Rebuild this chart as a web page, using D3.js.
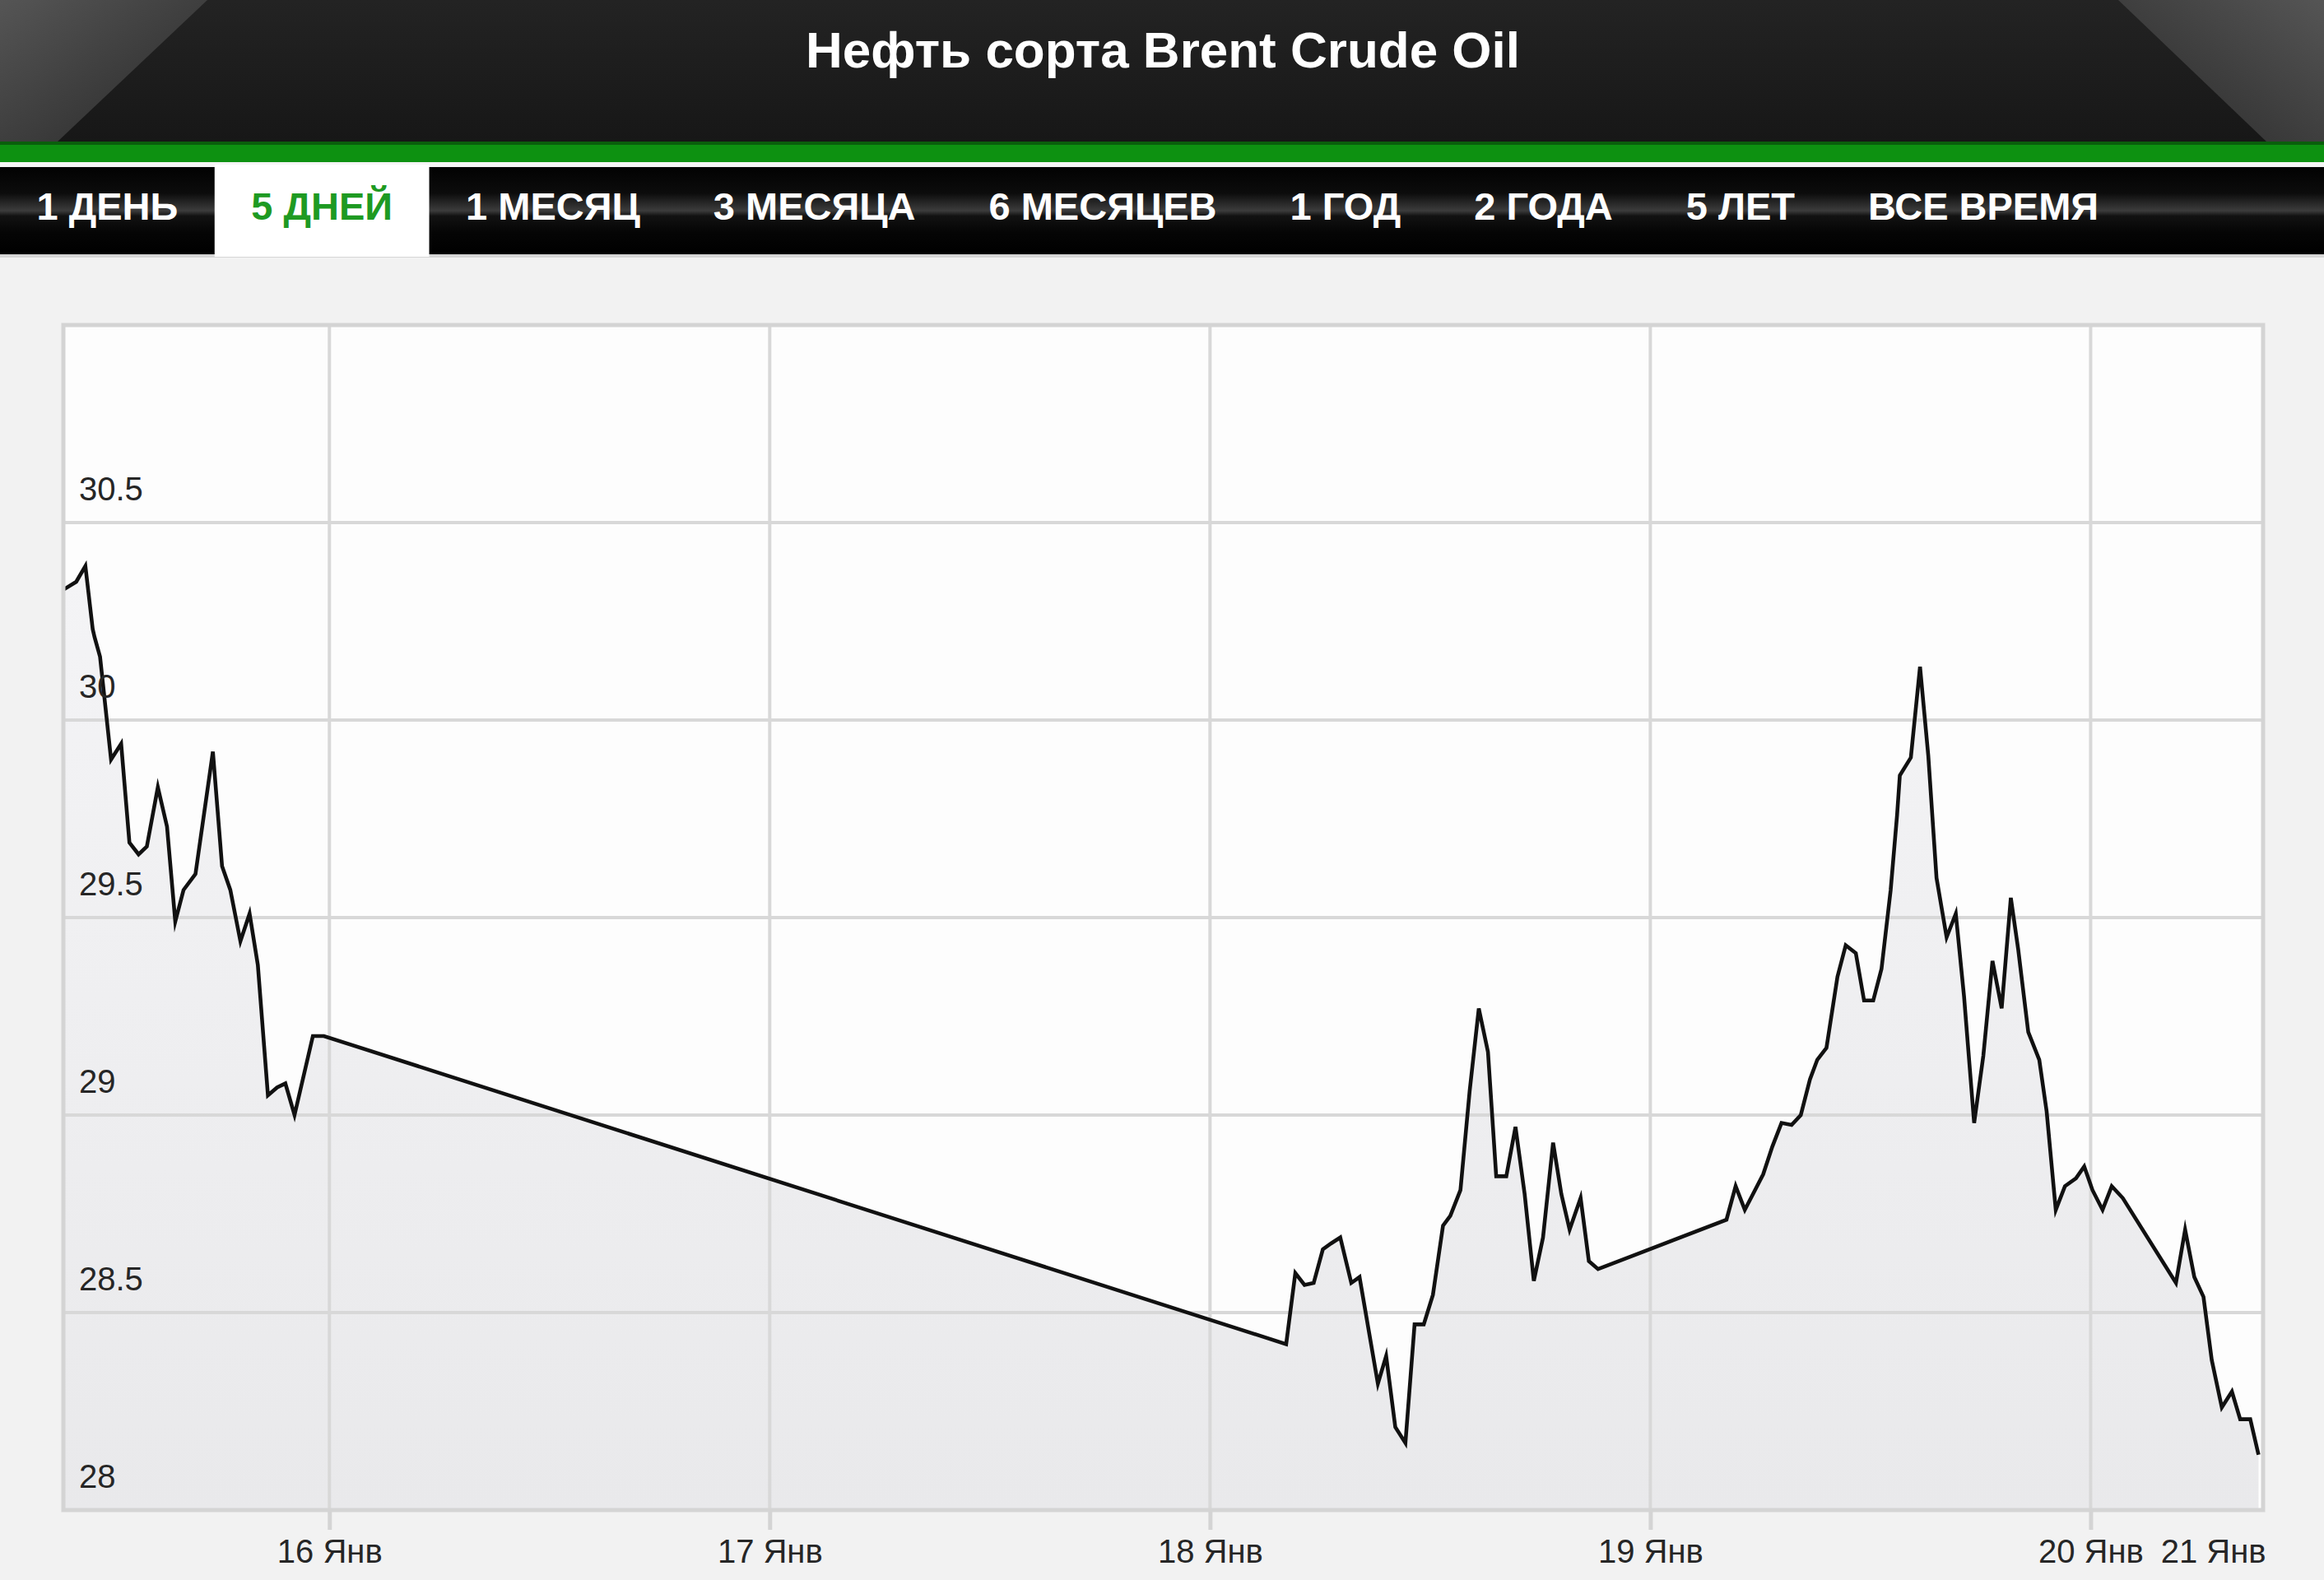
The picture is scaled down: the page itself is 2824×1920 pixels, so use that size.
<!DOCTYPE html>
<html>
<head>
<meta charset="utf-8">
<script src="https://cdnjs.cloudflare.com/ajax/libs/d3/7.8.5/d3.min.js"></script>
<style>
html,body{margin:0;padding:0;background:#f2f2f2;}
svg{display:block;}
text{font-family:"Liberation Sans",Arial,sans-serif;}
</style>
</head>
<body>
<svg id="chart" width="2824" height="1920"></svg>
<script>
// ---------- data ----------
const titleText = "Нефть сорта Brent Crude Oil";
const tabLabels = ["1 ДЕНЬ","5 ДНЕЙ","1 МЕСЯЦ","3 МЕСЯЦА","6 МЕСЯЦЕВ","1 ГОД","2 ГОДА","5 ЛЕТ","ВСЕ ВРЕМЯ"];
const selectedTab = 1;
// hours since 15 Jan 2016 00:00
const hours = [
  9.5,10.2,10.7,11.1,11.2,11.5,12.1,12.65,13.1,13.6,14.05,14.65,15.15,15.6,16.05,16.7,17.65,18.15,18.6,19.15,19.65,20.1,20.65,21.15,21.6,22.1,23.1,23.7,
  76.15,76.65,77.15,77.65,78.15,78.6,79.1,79.7,80.15,81.15,81.6,82.1,82.65,83.15,83.65,84.15,84.7,85.1,85.65,86.15,86.65,87.15,87.6,88.15,88.65,89.15,89.65,90.15,90.7,91.15,91.6,92.2,92.65,93.15,
  100.15,100.65,101.15,102.15,102.65,103.15,103.7,104.2,104.7,105.1,105.6,106.2,106.65,107.2,107.65,108.15,108.6,109.1,109.45,109.6,110.2,110.7,111.15,111.6,112.15,112.65,113.1,113.65,114.15,114.65,115.15,115.65,116.05,116.6,117.2,117.6,118.1,118.6,119.2,119.65,120.1,120.65,121.15,121.75,124.65,125.15,125.65,126.15,126.6,127.15,127.7,128.15,128.7,129.15
];
const prices = [
  30.33,30.35,30.39,30.23,30.21,30.16,29.90,29.94,29.69,29.66,29.68,29.83,29.73,29.49,29.57,29.61,29.92,29.63,29.57,29.44,29.51,29.38,29.05,29.07,29.08,29.00,29.20,29.20,
  28.42,28.60,28.57,28.575,28.66,28.675,28.69,28.575,28.59,28.32,28.39,28.21,28.17,28.47,28.47,28.545,28.72,28.745,28.81,29.06,29.27,29.16,28.845,28.845,28.97,28.80,28.58,28.69,28.93,28.80,28.71,28.79,28.63,28.61,
  28.735,28.82,28.76,28.85,28.92,28.98,28.975,29.00,29.09,29.14,29.17,29.35,29.43,29.41,29.29,29.29,29.37,29.57,29.76,29.86,29.905,30.135,29.91,29.60,29.45,29.51,29.30,28.98,29.15,29.39,29.27,29.55,29.42,29.21,29.14,29.01,28.76,28.82,28.84,28.87,28.81,28.76,28.82,28.79,28.575,28.71,28.59,28.54,28.38,28.26,28.30,28.23,28.23,28.14
];
const yTicks = [28, 28.5, 29, 29.5, 30, 30.5];
const yDomain = [28, 31];
const xStartHour = 9.5, xEndHour = 129.4;
const xTickDays = [16, 17, 18, 19, 20];
const xTickLabels = ["16 Янв","17 Янв","18 Янв","19 Янв","20 Янв","21 Янв"];

// ---------- helpers ----------
const t0 = new Date(2016, 0, 15, 0, 0, 0).getTime();
const toDate = h => new Date(t0 + h * 3600000);
const data = hours.map((h, i) => ({t: toDate(h), v: prices[i]}));

const W = 2824, H = 1920;
const plot = {left: 77, right: 2750, top: 395, bottom: 1835};
const svg = d3.select("#chart");
const defs = svg.append("defs");

// ---------- header ----------
const hg = defs.append("linearGradient").attr("id","hdr").attr("x1",0).attr("y1",0).attr("x2",0).attr("y2",1);
hg.append("stop").attr("offset","0%").attr("stop-color","#232323");
hg.append("stop").attr("offset","100%").attr("stop-color","#171717");
const gl = defs.append("linearGradient").attr("id","glareL").attr("x1",0).attr("y1",0).attr("x2",1).attr("y2",1);
gl.append("stop").attr("offset","0%").attr("stop-color","#555555");
gl.append("stop").attr("offset","100%").attr("stop-color","#282828");
const gr = defs.append("linearGradient").attr("id","glareR").attr("x1",1).attr("y1",0).attr("x2",0).attr("y2",1);
gr.append("stop").attr("offset","0%").attr("stop-color","#555555");
gr.append("stop").attr("offset","100%").attr("stop-color","#282828");

svg.append("rect").attr("x",0).attr("y",0).attr("width",W).attr("height",H).attr("fill","#f2f2f2");
svg.append("rect").attr("x",0).attr("y",0).attr("width",W).attr("height",172).attr("fill","url(#hdr)");
svg.append("polygon").attr("points","0,0 252,0 70,172 0,172").attr("fill","url(#glareL)");
svg.append("polygon").attr("points","2574,0 2824,0 2824,172 2754,172").attr("fill","url(#glareR)");
svg.append("text").attr("x",W/2 + 1).attr("y",82).attr("text-anchor","middle")
  .attr("font-size",62).attr("font-weight","bold").attr("fill","#ffffff").text(titleText);

// green band + white line
svg.append("rect").attr("x",0).attr("y",172).attr("width",W).attr("height",4).attr("fill","#0a5e0c");
svg.append("rect").attr("x",0).attr("y",176).attr("width",W).attr("height",21).attr("fill","#0d9111");
svg.append("rect").attr("x",0).attr("y",197).attr("width",W).attr("height",6).attr("fill","#f4f4f4");

// tab bar
const tg = defs.append("linearGradient").attr("id","tabs").attr("x1",0).attr("y1",0).attr("x2",0).attr("y2",1);
[["0%","#020202"],["30%","#0c0c0c"],["50%","#3c3c3c"],["56%","#121212"],["75%","#050505"],["100%","#000000"]]
  .forEach(s => tg.append("stop").attr("offset",s[0]).attr("stop-color",s[1]));
svg.append("rect").attr("x",0).attr("y",203).attr("width",W).attr("height",106).attr("fill","url(#tabs)");
svg.append("rect").attr("x",0).attr("y",309).attr("width",W).attr("height",4).attr("fill","#d6d6d6");

const tabG = svg.append("g");
let cursor = 0;
const pad = 44.5;
tabLabels.forEach((lab, i) => {
  const txt = tabG.append("text").attr("y",267).attr("font-size",47).attr("font-weight","bold")
    .attr("fill", i === selectedTab ? "#1e9a22" : "#ffffff").text(lab);
  const w = txt.node().getComputedTextLength();
  if (i === selectedTab) {
    tabG.insert("rect","text").attr("x",cursor).attr("y",200).attr("width",w + 2*pad).attr("height",112).attr("fill","#ffffff");
  }
  txt.attr("x", cursor + pad);
  cursor += w + 2*pad;
});
tabG.selectAll("text").raise();

// ---------- chart ----------
const x = d3.scaleTime().domain([toDate(xStartHour), toDate(xEndHour)]).range([plot.left, plot.right]);
const y = d3.scaleLinear().domain(yDomain).range([plot.bottom, plot.top]);

svg.append("rect").attr("x",plot.left).attr("y",plot.top).attr("width",plot.right-plot.left)
  .attr("height",plot.bottom-plot.top).attr("fill","#fdfdfd");

const ag = defs.append("linearGradient").attr("id","areaG").attr("x1",0).attr("y1",0).attr("x2",0).attr("y2",1);
ag.append("stop").attr("offset","0%").attr("stop-color","#f4f4f6");
ag.append("stop").attr("offset","100%").attr("stop-color","#e9e9eb");

const area = d3.area().x(d => x(d.t)).y0(y(yDomain[0])).y1(d => y(d.v));
svg.append("path").datum(data).attr("d",area).attr("fill","url(#areaG)");

// gridlines
const grid = svg.append("g");
grid.selectAll("line.h").data(yTicks.slice(1)).join("line").attr("class","h")
  .attr("x1",plot.left).attr("x2",plot.right).attr("y1",d=>y(d)).attr("y2",d=>y(d))
  .attr("stroke","#d8d8d8").attr("stroke-width",4);
const dayDates = xTickDays.map(d => new Date(2016,0,d));
grid.selectAll("line.v").data(dayDates).join("line").attr("class","v")
  .attr("x1",d=>x(d)).attr("x2",d=>x(d)).attr("y1",plot.top).attr("y2",plot.bottom)
  .attr("stroke","#d8d8d8").attr("stroke-width",4);

// line
const line = d3.line().x(d => x(d.t)).y(d => y(d.v));
svg.append("path").datum(data).attr("d",line).attr("fill","none")
  .attr("stroke","#111111").attr("stroke-width",4.6).attr("stroke-linejoin","miter").attr("stroke-miterlimit",6);

// border
svg.append("rect").attr("x",plot.left).attr("y",plot.top).attr("width",plot.right-plot.left)
  .attr("height",plot.bottom-plot.top).attr("fill","none").attr("stroke","#d4d4d4").attr("stroke-width",5);

// y labels inside plot
svg.append("g").selectAll("text").data(yTicks).join("text")
  .attr("x",96).attr("y",d=>y(d)-27).attr("font-size",40).attr("fill","#262626")
  .text(d => d3.format("")(d));

// x axis
const xTickVals = dayDates.concat([toDate(xEndHour)]);
const xAxis = d3.axisBottom(x).tickValues(xTickVals).tickSize(24).tickPadding(0)
  .tickFormat((d,i) => xTickLabels[i]);
const xg = svg.append("g").attr("transform",`translate(0,${plot.bottom})`).call(xAxis);
xg.select(".domain").remove();
xg.selectAll(".tick line").attr("stroke","#d4d4d4").attr("stroke-width",5);
xg.selectAll(".tick text").attr("y",64).attr("dy",0).attr("font-size",40).attr("fill","#262626")
  .attr("font-family",'"Liberation Sans",Arial,sans-serif');
const lastTick = xg.selectAll(".tick").filter((d,i) => i === xTickVals.length - 1);
lastTick.select("line").remove();
lastTick.select("text").attr("text-anchor","end").attr("x",3);
</script>
</body>
</html>
